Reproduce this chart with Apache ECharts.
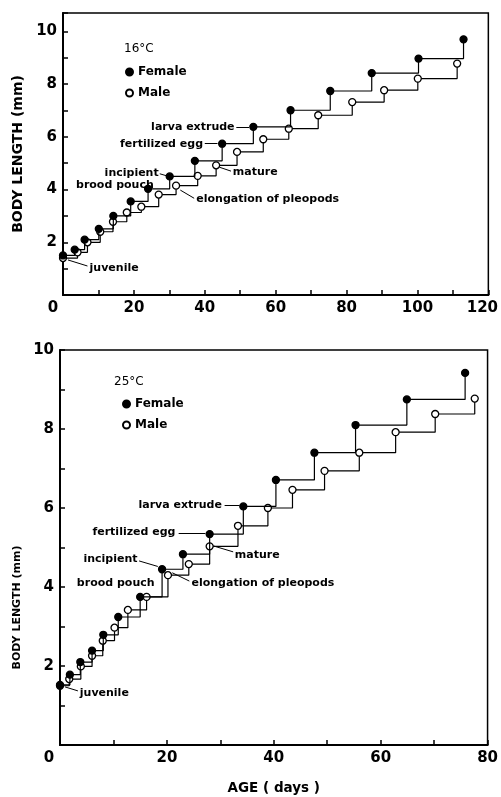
<!DOCTYPE html>
<html>
<head>
<meta charset="utf-8">
<script src="https://cdn.jsdelivr.net/npm/echarts@6/dist/echarts.min.js"></script>
<style>
  html, body { margin: 0; padding: 0; background: #fff; }
  #chart { width: 501px; height: 797px; }
</style>
</head>
<body>
<div id="chart"></div>
<script>
// Body length against age for females and males reared at 16°C and 25°C.
const FONT = 'DejaVu Sans';

// 16°C rearing
const female16Age = [0, 3.3, 6.1, 10.1, 14.2, 19.1, 24.0, 30.1, 37.2, 44.9, 53.7, 64.2, 75.4, 87.1, 100.3, 113.0];
const female16Len = [1.50, 1.72, 2.10, 2.51, 3.00, 3.55, 4.03, 4.50, 5.09, 5.74, 6.38, 7.01, 7.74, 8.42, 8.97, 9.70];
const male16Age = [0, 4.1, 6.9, 10.5, 14.1, 18.0, 22.1, 27.0, 31.9, 38.0, 43.2, 49.1, 56.5, 63.7, 72.0, 81.6, 90.6, 100.1, 111.2];
const male16Len = [1.40, 1.62, 2.00, 2.40, 2.78, 3.13, 3.35, 3.81, 4.15, 4.52, 4.92, 5.43, 5.91, 6.31, 6.82, 7.32, 7.77, 8.21, 8.78];

// 25°C rearing
const female25Age = [0, 1.85, 3.8, 6.0, 8.1, 10.9, 15.0, 19.1, 23.0, 28.0, 34.3, 40.4, 47.6, 55.3, 64.9, 75.8];
const female25Len = [1.52, 1.78, 2.10, 2.39, 2.79, 3.24, 3.75, 4.45, 4.83, 5.34, 6.04, 6.71, 7.40, 8.10, 8.75, 9.42];
const male25Age = [0, 1.73, 3.9, 6.0, 8.0, 10.2, 12.7, 16.2, 20.2, 24.1, 28.0, 33.3, 38.9, 43.5, 49.5, 56.0, 62.8, 70.2, 77.6];
const male25Len = [1.50, 1.67, 1.99, 2.26, 2.64, 2.97, 3.42, 3.75, 4.30, 4.58, 5.03, 5.55, 6.00, 6.46, 6.94, 7.40, 7.92, 8.38, 8.77];

// Tick labels
const ageLabels16 = [0, 20, 40, 60, 80, 100, 120];
const ageLabels25 = [0, 20, 40, 60, 80];
const lengthLabels = [2, 4, 6, 8, 10];

// Stage notes: [age, length, text, side of anchor]
const notes16 = [
  [7.5, 1.02, 'juvenile', 'right'],
  [27.0, 4.62, 'incipient', 'left'],
  [25.6, 4.17, 'brood pouch', 'left'],
  [39.5, 5.74, 'fertilized egg', 'left'],
  [48.4, 6.36, 'larva extrude', 'left'],
  [47.9, 4.66, 'mature', 'right'],
  [37.6, 3.64, 'elongation of pleopods', 'right']
];
const notes25 = [
  [3.7, 1.32, 'juvenile', 'right'],
  [14.5, 4.71, 'incipient', 'left'],
  [17.7, 4.10, 'brood pouch', 'left'],
  [21.6, 5.38, 'fertilized egg', 'left'],
  [30.3, 6.08, 'larva extrude', 'left'],
  [32.7, 4.81, 'mature', 'right'],
  [24.6, 4.10, 'elongation of pleopods', 'right']
];

// Pointer arrows: [from, to, curveness]
const arrows16 = [
  [[6.9, 1.10], [1.4, 1.33], 0.3],
  [[27.3, 4.60], [29.3, 4.52], 0],
  [[40.0, 5.74], [43.6, 5.74], 0],
  [[48.9, 6.37], [52.5, 6.37], 0],
  [[47.4, 4.70], [44.1, 4.85], 0.3],
  [[37.0, 3.67], [33.1, 3.98], 0.3]
];
const arrows25 = [
  [[3.35, 1.37], [0.95, 1.47], 0.3],
  [[14.8, 4.66], [18.3, 4.52], 0],
  [[22.2, 5.36], [27.2, 5.36], 0],
  [[30.8, 6.06], [33.6, 6.06], 0],
  [[32.4, 4.89], [28.7, 5.04], 0.3],
  [[24.2, 4.15], [21.0, 4.36], 0.3]
];

const pairs = (xs, ys) => xs.map((x, i) => [x, ys[i]]);

const tickFont = { fontFamily: FONT, fontSize: 15, fontWeight: 'bold', color: '#000' };

function xAxisFor(gridIndex, max, labels, zeroShift, lastShift, name) {
  return {
    type: 'value', gridIndex: gridIndex, min: 0, max: max, interval: 10,
    axisLine: { lineStyle: { color: '#000', width: 2 } },
    axisTick: { inside: true, length: 5, lineStyle: { color: '#000', width: 1.5 } },
    splitLine: { show: false },
    axisLabel: Object.assign({}, tickFont, {
      margin: 6,
      formatter: function (v) {
        if (!labels.includes(v)) return '';
        if (v === 0) return '{z|0}';
        if (v === labels[labels.length - 1] && lastShift) return '{r|' + v + '}';
        return String(v);
      },
      rich: {
        z: Object.assign({}, tickFont, { padding: [0, zeroShift, 0, 0] }),
        r: Object.assign({}, tickFont, { padding: [0, lastShift, 0, 0] })
      }
    }),
    name: name || '',
    nameLocation: 'middle',
    nameGap: 36,
    nameTextStyle: { fontFamily: FONT, fontSize: 13.5, fontWeight: 'bold', color: '#000' }
  };
}

function yAxisFor(gridIndex, max, nameSize, nameGap, namePad) {
  return {
    type: 'value', gridIndex: gridIndex, min: 0, max: max, interval: 1,
    axisLine: { lineStyle: { color: '#000', width: 2 } },
    axisTick: { inside: true, length: 5, lineStyle: { color: '#000', width: 1.5 } },
    splitLine: { show: false },
    axisLabel: Object.assign({}, tickFont, {
      margin: 6,
      formatter: function (v) { return lengthLabels.includes(v) ? String(v) : ''; }
    }),
    name: 'BODY LENGTH (mm)',
    nameLocation: 'middle',
    nameGap: nameGap,
    nameTextStyle: { fontFamily: FONT, fontSize: nameSize, fontWeight: 'bold', color: '#000', padding: namePad }
  };
}

function growthSeries(name, idx, ages, lens, filled) {
  return {
    name: name, type: 'line', step: 'end',
    xAxisIndex: idx, yAxisIndex: idx,
    data: pairs(ages, lens),
    symbol: 'circle', symbolSize: 7, showSymbol: true,
    lineStyle: { color: '#000', width: 1.2 },
    itemStyle: { color: filled ? '#000' : '#fff', borderColor: '#000', borderWidth: 1.3 },
    z: filled ? 4 : 3
  };
}

function notesSeries(idx, notes, arrows) {
  return {
    type: 'scatter', xAxisIndex: idx, yAxisIndex: idx,
    symbolSize: 0, silent: true, z: 5,
    itemStyle: { opacity: 1 },
    data: notes.map(n => ({
      value: [n[0], n[1]],
      label: {
        show: true, position: n[3], distance: 0,
        formatter: n[2],
        fontFamily: FONT, fontSize: 11, fontWeight: 'bold', color: '#000', opacity: 1
      }
    })),
    markLine: {
      silent: true, animation: false,
      symbol: ['none', 'arrow'], symbolSize: [0, 6],
      label: { show: false },
      lineStyle: { color: '#000', width: 1, type: 'solid', opacity: 1 },
      data: arrows.map(a => [
        { coord: a[0], lineStyle: { curveness: a[2] } },
        { coord: a[1] }
      ])
    }
  };
}

const legendBase = {
  orient: 'vertical', icon: 'circle', itemWidth: 7, itemHeight: 7, itemGap: 9,
  data: ['Female', 'Male'],
  textStyle: { fontFamily: FONT, fontSize: 12, fontWeight: 'bold', color: '#000' },
  selectedMode: false
};

const chart = echarts.init(document.getElementById('chart'), null, { renderer: 'canvas' });
chart.setOption({
  animation: false,
  backgroundColor: '#fff',
  title: [
    { text: '16°C', left: 119, top: 38, textStyle: { fontFamily: FONT, fontSize: 12, fontWeight: 'normal', color: '#000' } },
    { text: '25°C', left: 109, top: 371, textStyle: { fontFamily: FONT, fontSize: 12, fontWeight: 'normal', color: '#000' } }
  ],
  legend: [
    Object.assign({}, legendBase, { left: 120, top: 61 }),
    Object.assign({}, legendBase, { left: 117, top: 393 })
  ],
  grid: [
    { left: 63, right: 7, top: 13, bottom: 502, show: true, borderColor: '#000', borderWidth: 1.5 },
    { left: 60, right: 11, top: 350, bottom: 52, show: true, borderColor: '#000', borderWidth: 1.5 }
  ],
  xAxis: [
    xAxisFor(0, 120, ageLabels16, 20, 12, ''),
    xAxisFor(1, 80, ageLabels25, 22, 0, 'AGE ( days )')
  ],
  yAxis: [
    yAxisFor(0, 10.7, 14, 31, [0, 0, 0, 0]),
    yAxisFor(1, 10, 11, 32, [0, 120, 0, 0])
  ],
  series: [
    growthSeries('Male', 0, male16Age, male16Len, false),
    growthSeries('Female', 0, female16Age, female16Len, true),
    growthSeries('Male', 1, male25Age, male25Len, false),
    growthSeries('Female', 1, female25Age, female25Len, true),
    notesSeries(0, notes16, arrows16),
    notesSeries(1, notes25, arrows25)
  ]
});
</script>
</body>
</html>
